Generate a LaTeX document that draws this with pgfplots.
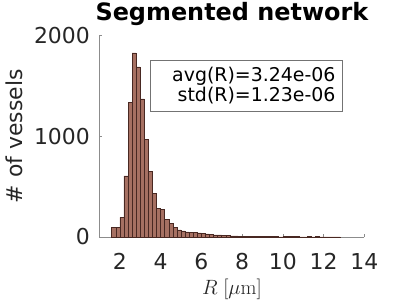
\documentclass[border=0pt]{standalone}
\usepackage[no-math]{fontspec}
\setmainfont{DejaVu Sans}
\usepackage{pgfplots}
\pgfplotsset{compat=1.18}
\definecolor{barfill}{RGB}{166,112,98}
\definecolor{baredge}{RGB}{72,40,34}
\definecolor{ticktext}{RGB}{38,38,38}
\begin{document}
\begin{tikzpicture}
\begin{axis}[
  name=ax,
  scale only axis,
  width=264.8bp, height=201.5bp,
  xmin=1, xmax=14, ymin=0, ymax=2000,
  axis x line=bottom, axis y line=left,
  axis line style={-, black!45, line width=0.6bp},
  tick style={black!45, line width=0.6bp},
  tick align=inside,
  major tick length=3bp,
  xtick={2,4,...,14}, ytick={0,1000,2000},
  /pgf/number format/assume math mode=true,
  /pgf/number format/1000 sep={},
  ticklabel style={font=\fontsize{22}{26}\selectfont, text=ticktext, inner sep=0pt},
  xticklabel style={anchor=north, yshift=-16bp},
  yticklabel style={anchor=east, xshift=-9.5bp},
  xlabel={$R\;[\mu\mathrm{m}]$},
  xlabel style={at={(axis description cs:0.5,-0.2878)}, anchor=base, font=\fontsize{22}{26}\selectfont, text=ticktext, inner sep=0pt},
  ylabel={\# of vessels},
  ylabel style={at={(axis description cs:-0.2889,0.5)}, anchor=base, rotate=0, font=\fontsize{22}{26}\selectfont, text=ticktext, inner sep=0pt},
  title={Segmented network},
  title style={at={(axis description cs:0.5,1.0437)}, anchor=base, font=\bfseries\fontsize{24}{28}\selectfont, inner sep=0pt},
  clip=false,
]
\addplot[ybar interval, fill=barfill, draw=baredge, line width=0.5bp] coordinates {
(1.6,96) (1.8,96) (2.0,196) (2.2,607) (2.4,1336) (2.6,1828) (2.8,1689)
(3.0,1370) (3.2,970) (3.4,650) (3.6,432) (3.8,286) (4.0,276) (4.2,176)
(4.4,136) (4.6,97) (4.8,70) (5.0,60) (5.2,50) (5.4,43) (5.6,46) (5.8,40)
(6.0,36) (6.2,30) (6.4,27) (6.6,20) (6.8,20) (7.0,18) (7.2,14) (7.4,12)
(7.6,10) (7.8,8) (8.0,7) (8.2,6) (8.4,5) (8.6,4) (8.8,3) (9.0,3) (9.2,4)
(9.4,3) (9.6,4) (9.8,2) (10.0,3) (10.2,3) (10.4,4) (10.6,3) (10.8,2)
(11.0,1) (11.2,3) (11.4,2) (11.6,3) (11.8,1) (12.0,1) (12.2,1) (12.4,2)
(12.6,2) (12.8,0)
};
\draw[black!55, line width=0.6bp, fill=white] (rel axis cs:0.1934,0.625) rectangle (rel axis cs:0.917,0.878);
\node[anchor=east, align=right, inner sep=0pt, font=\fontsize{19}{20}\selectfont] at (rel axis cs:0.892,0.752) {avg(R)=3.24e-06\\std(R)=1.23e-06};
\end{axis}
\pgfresetboundingbox
\path ([xshift=-99.5bp,yshift=-65bp]ax.south west) rectangle ([xshift=303.5bp,yshift=237bp]ax.south west);
\end{tikzpicture}
\end{document}
